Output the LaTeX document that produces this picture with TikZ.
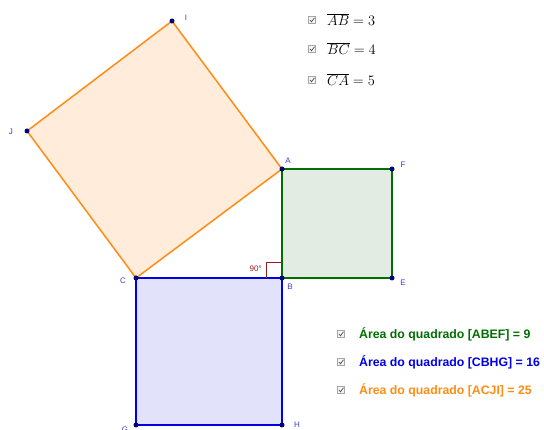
\documentclass[tikz,border=0pt]{standalone}
\usepackage{fontspec}
\setsansfont{Liberation Sans}
\usetikzlibrary{calc}
\begin{document}
\begin{tikzpicture}[x=1pt,y=-1pt,
  pt/.style={circle,fill=ptcol,inner sep=0pt,minimum size=5pt},
  lbl/.style={font=\sffamily\fontsize{8}{9}\selectfont,text=lblcol,inner sep=0pt},
  chk/.style={draw=gray!70,fill=gray!8,line width=0.5pt,minimum size=7pt,inner sep=0pt},
  area/.style={font=\sffamily\bfseries\fontsize{12.3}{14}\selectfont,anchor=west,inner sep=0pt},
  eq/.style={font=\fontsize{15.5}{17}\selectfont,anchor=west,inner sep=0pt},
]
\definecolor{ptcol}{RGB}{0,0,120}
\definecolor{lblcol}{RGB}{60,60,200}
\definecolor{orng}{RGB}{255,140,20}
\definecolor{orfill}{RGB}{255,236,218}
\definecolor{grn}{RGB}{0,110,0}
\definecolor{grfill}{RGB}{226,236,226}
\definecolor{blu}{RGB}{0,0,230}
\definecolor{blfill}{RGB}{226,226,250}
\definecolor{ang}{RGB}{150,30,30}
\useasboundingbox (0,0) rectangle (544,430);
% vertices
\coordinate (A) at (282,169);
\coordinate (B) at (282,278);
\coordinate (C) at (136,278);
\coordinate (E) at (392,278);
\coordinate (F) at (392,169);
\coordinate (G) at (136,425);
\coordinate (H) at (282,425);
\coordinate (I) at (172,21);
\coordinate (J) at (27,131);
% squares
\draw[orng,fill=orfill,line width=1.5pt,line join=round] (A) -- (C) -- (J) -- (I) -- cycle;
\draw[grn,fill=grfill,line width=1.5pt,line join=round] (A) -- (B) -- (E) -- (F) -- cycle;
\draw[blu,fill=blfill,line width=1.5pt,line join=round] (C) -- (B) -- (H) -- (G) -- cycle;
% right angle
\coordinate (r1) at (266,278);
\coordinate (r2) at (266,262);
\coordinate (r3) at (282,262);
\draw[ang,line width=0.6pt] (r1) -- (r2) -- (r3);
\node[font=\sffamily\fontsize{8}{9}\selectfont,text=ang,anchor=east,inner sep=0pt] (ang90) at (262,269) {90°};
% points
\foreach \p in {A,B,C,E,F,G,H,I,J} \node[pt] (p\p) at (\p) {};
% labels
\node[lbl] (lI) at (186,18) {I};
\node[lbl] (lJ) at (11,132) {J};
\node[lbl] (lA) at (288,161) {A};
\node[lbl] (lF) at (403,165) {F};
\node[lbl] (lE) at (403,283) {E};
\node[lbl] (lB) at (290,287) {B};
\node[lbl] (lC) at (123,281) {C};
\node[lbl] (lH) at (297,425) {H};
\node[lbl] (lG) at (125,430) {G};
% checkboxes and equations
\foreach \y/\n in {20/1,49/2,80/3} {
  \node[chk] (c\n) at (312,\y) {};
  \draw[black!70,line width=0.7pt] ($(c\n)+(-2,0)$) -- ($(c\n)+(-0.5,1.8)$) -- ($(c\n)+(2.5,-2.2)$);
}
\node[eq] (e1) at (327,20) {$\overline{AB}=3$};
\node[eq] (e2) at (327,49) {$\overline{BC}=4$};
\node[eq] (e3) at (327,80) {$\overline{CA}=5$};
\foreach \y/\n in {334/4,362/5,390/6} {
  \node[chk] (c\n) at (341,\y) {};
  \draw[black!70,line width=0.7pt] ($(c\n)+(-2,0)$) -- ($(c\n)+(-0.5,1.8)$) -- ($(c\n)+(2.5,-2.2)$);
}
\node[area,text=grn] (a1) at (359,334) {Área do quadrado [ABEF] = 9};
\node[area,text=blu] (a2) at (359,362) {Área do quadrado [CBHG] = 16};
\node[area,text=orng] (a3) at (359,390) {Área do quadrado [ACJI] = 25};
\end{tikzpicture}
\end{document}
